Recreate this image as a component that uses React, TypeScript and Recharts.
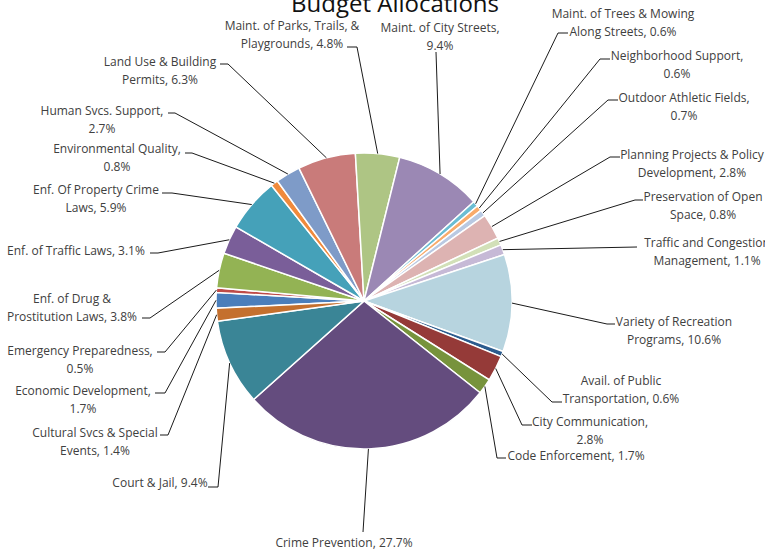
import React from 'react';
import { PieChart, Pie, Cell } from 'recharts';

// categories in sheet order (first slice starts just below 9 o'clock)
const categories = [
  'Economic Development',
  'Emergency Preparedness',
  'Enf. of Drug & Prostitution Laws',
  'Enf. of Traffic Laws',
  'Enf. Of Property Crime Laws',
  'Environmental Quality',
  'Human Svcs. Support',
  'Land Use & Building Permits',
  'Maint. of Parks, Trails, & Playgrounds',
  'Maint. of City Streets',
  'Maint. of Trees & Mowing Along Streets',
  'Neighborhood Support',
  'Outdoor Athletic Fields',
  'Planning Projects & Policy Development',
  'Preservation of Open Space',
  'Traffic and Congestion Management',
  'Variety of Recreation Programs',
  'Avail. of Public Transportation',
  'City Communication',
  'Code Enforcement',
  'Crime Prevention',
  'Court & Jail',
  'Cultural Svcs & Special Events',
];

const shares = [
  1.7, 0.5, 3.8, 3.1, 5.9, 0.8, 2.7, 6.3, 4.8, 9.4, 0.6, 0.6,
  0.7, 2.8, 0.8, 1.1, 10.6, 0.6, 2.8, 1.7, 27.7, 9.4, 1.4,
];

const COLORS = [
  '#4A7EBB', '#BE4B48', '#93B354', '#7A5E99', '#45A1B9', '#F08A3C',
  '#7E9BC8', '#C97B7A', '#AEC584', '#9B88B4', '#6BBDD3', '#F9AB6B',
  '#B9C9E2', '#DDB3B2', '#D2E0B8', '#C6B9D6', '#B7D4DF', '#2C5C8E',
  '#953A38', '#77933C', '#644C7E', '#3A8596', '#C4702E',
];

// number of words on the first label line (0 = single line)
const breaks = [2, 2, 4, 0, 4, 2, 3, 4, 5, 4, 5, 2, 3, 4, 3, 3, 3, 3, 2, 0, 0, 0, 4];

// label placement: text centre x, first line y, elbow x, tick end x, tick y
const labelSpots: [number, number, number, number, number][] = [
  [83, 390, 165, 155, 393],
  [80, 350, 165, 157, 352],
  [72, 298, 150, 142, 318],
  [76, 250, 158, 150, 253],
  [96, 189, 172, 162, 193],
  [117, 148, 192, 185, 153],
  [102, 110, 175, 168, 113],
  [160, 61, 228, 220, 64],
  [292, 25, 357, 347, 47],
  [440, 27, 436, 436, 52],
  [623, 13, 558, 568, 33],
  [677, 55, 600, 610, 59],
  [684, 97, 608, 618, 100],
  [692, 154, 610, 620, 157],
  [703, 196, 635, 643, 200],
  [707, 242, 637, 637, 247],
  [674, 321, 607, 615, 324],
  [621, 380, 552, 562, 402],
  [590, 421, 522, 532, 425],
  [576, 455, 497, 506, 458],
  [344, 542, 363, 363, 532],
  [160, 482, 218, 208, 487],
  [95, 432, 168, 160, 435],
];

const data = categories.map((name, i) => ({ name, value: shares[i] }));

const RAD = Math.PI / 180;

const renderLabel = (props: any) => {
  const { cx, cy, midAngle, outerRadius, index } = props;
  const [tx, ty, ex, kx, ky] = labelSpots[index];
  const sx = cx + outerRadius * Math.cos(-midAngle * RAD);
  const sy = cy + outerRadius * Math.sin(-midAngle * RAD);
  const text = `${categories[index]}, ${shares[index].toFixed(1)}%`;
  const words = text.split(' ');
  const n = breaks[index];
  const lines = n ? [words.slice(0, n).join(' '), words.slice(n).join(' ')] : [text];
  return (
    <g key={`lbl-${index}`}>
      <polyline
        points={`${sx},${sy} ${ex},${ky} ${kx},${ky}`}
        fill="none"
        stroke="#000"
        strokeWidth={0.9}
      />
      <text
        x={tx}
        y={ty}
        textAnchor="middle"
        dominantBaseline="central"
        fill="#404040"
        fontSize={12}
        fontFamily="'Open Sans', sans-serif"
      >
        {lines.map((l, i) => (
          <tspan key={i} x={tx} dy={i === 0 ? 0 : 17.5}>
            {l}
          </tspan>
        ))}
      </text>
    </g>
  );
};

export default function App() {
  return (
    <div style={{ position: 'absolute', left: 0, top: 0, width: 765, height: 552, background: '#fff' }}>
      <PieChart width={765} height={552}>
        <text
          x={395}
          y={12}
          textAnchor="middle"
          fontSize={24}
          fontFamily="'Open Sans', sans-serif"
          fill="#111"
        >
          Budget Allocations
        </text>
        <Pie
          data={data}
          dataKey="value"
          nameKey="name"
          cx={359}
          cy={296}
          outerRadius={148}
          startAngle={182.8}
          endAngle={-177.2}
          stroke="#fff"
          strokeWidth={1.5}
          label={renderLabel}
          labelLine={false}
          isAnimationActive={false}
        >
          {data.map((entry, index) => (
            <Cell key={`cell-${index}`} fill={COLORS[index]} />
          ))}
        </Pie>
      </PieChart>
    </div>
  );
}
